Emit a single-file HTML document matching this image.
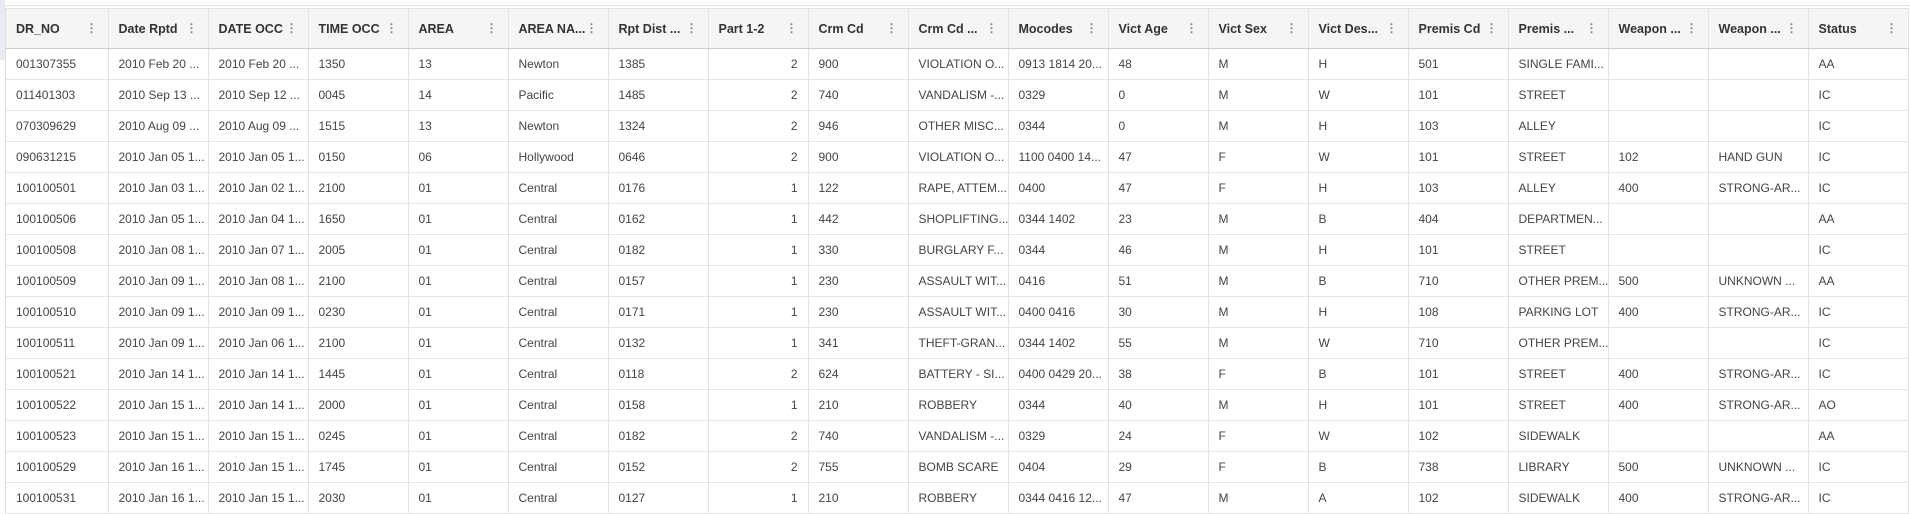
<!DOCTYPE html>
<html><head><meta charset="utf-8">
<style>
*{box-sizing:border-box;margin:0;padding:0}
body{width:1910px;height:514px;overflow:hidden;background:#fff;font-family:"Liberation Sans",sans-serif;color:#333;position:relative}
#topband{position:absolute;left:0;top:0;width:1910px;height:6px;background:#fff;border-bottom:1px solid #e2e2e2}
#lefttab{position:absolute;left:0;top:0;width:5px;height:60px;background:#e8ecf0}
#grid{position:absolute;left:5px;top:8px;border-left:1px solid #ddd}
table{border-collapse:collapse;table-layout:fixed;width:1902px}
th,td{overflow:hidden;white-space:nowrap;border-right:1px solid #e2e2e2;padding:0 10px;text-align:left}
th{height:40px;background:#f5f5f5;font-size:12.5px;font-weight:bold;color:#333;border-bottom:1px solid #ccc;border-top:1px solid #e2e2e2;position:relative;padding-right:28px;text-overflow:clip}
th span.m{position:absolute;right:10px;top:12px;color:#888;font-size:12px;font-weight:bold}
td{height:31px;font-size:12px;color:#444;border-bottom:1px solid #e6e6e6}
td.r{text-align:right}
</style></head><body>
<div id="topband"></div>
<div id="lefttab"></div>
<div id="grid">
<table id="t">
<colgroup id="cg"></colgroup>
<thead><tr id="hr"></tr></thead>
<tbody id="tb"></tbody>
</table></div>
<script>
const headers=["DR_NO","Date Rptd","DATE OCC","TIME OCC","AREA","AREA NA...","Rpt Dist ...","Part 1-2","Crm Cd","Crm Cd ...","Mocodes","Vict Age","Vict Sex","Vict Des...","Premis Cd","Premis ...","Weapon ...","Weapon ...","Status"];
const widths=[102,100,100,100,100,100,100,100,100,100,100,100,100,100,100,100,100,100,100];
const rows=[
["001307355","2010 Feb 20 ...","2010 Feb 20 ...","1350","13","Newton","1385","2","900","VIOLATION O...","0913 1814 20...","48","M","H","501","SINGLE FAMI...","","","AA"],
["011401303","2010 Sep 13 ...","2010 Sep 12 ...","0045","14","Pacific","1485","2","740","VANDALISM -...","0329","0","M","W","101","STREET","","","IC"],
["070309629","2010 Aug 09 ...","2010 Aug 09 ...","1515","13","Newton","1324","2","946","OTHER MISC...","0344","0","M","H","103","ALLEY","","","IC"],
["090631215","2010 Jan 05 1...","2010 Jan 05 1...","0150","06","Hollywood","0646","2","900","VIOLATION O...","1100 0400 14...","47","F","W","101","STREET","102","HAND GUN","IC"],
["100100501","2010 Jan 03 1...","2010 Jan 02 1...","2100","01","Central","0176","1","122","RAPE, ATTEM...","0400","47","F","H","103","ALLEY","400","STRONG-AR...","IC"],
["100100506","2010 Jan 05 1...","2010 Jan 04 1...","1650","01","Central","0162","1","442","SHOPLIFTING...","0344 1402","23","M","B","404","DEPARTMEN...","","","AA"],
["100100508","2010 Jan 08 1...","2010 Jan 07 1...","2005","01","Central","0182","1","330","BURGLARY F...","0344","46","M","H","101","STREET","","","IC"],
["100100509","2010 Jan 09 1...","2010 Jan 08 1...","2100","01","Central","0157","1","230","ASSAULT WIT...","0416","51","M","B","710","OTHER PREM...","500","UNKNOWN ...","AA"],
["100100510","2010 Jan 09 1...","2010 Jan 09 1...","0230","01","Central","0171","1","230","ASSAULT WIT...","0400 0416","30","M","H","108","PARKING LOT","400","STRONG-AR...","IC"],
["100100511","2010 Jan 09 1...","2010 Jan 06 1...","2100","01","Central","0132","1","341","THEFT-GRAN...","0344 1402","55","M","W","710","OTHER PREM...","","","IC"],
["100100521","2010 Jan 14 1...","2010 Jan 14 1...","1445","01","Central","0118","2","624","BATTERY - SI...","0400 0429 20...","38","F","B","101","STREET","400","STRONG-AR...","IC"],
["100100522","2010 Jan 15 1...","2010 Jan 14 1...","2000","01","Central","0158","1","210","ROBBERY","0344","40","M","H","101","STREET","400","STRONG-AR...","AO"],
["100100523","2010 Jan 15 1...","2010 Jan 15 1...","0245","01","Central","0182","2","740","VANDALISM -...","0329","24","F","W","102","SIDEWALK","","","AA"],
["100100529","2010 Jan 16 1...","2010 Jan 15 1...","1745","01","Central","0152","2","755","BOMB SCARE","0404","29","F","B","738","LIBRARY","500","UNKNOWN ...","IC"],
["100100531","2010 Jan 16 1...","2010 Jan 15 1...","2030","01","Central","0127","1","210","ROBBERY","0344 0416 12...","47","M","A","102","SIDEWALK","400","STRONG-AR...","IC"]];
const cg=document.getElementById('cg'),hr=document.getElementById('hr'),tb=document.getElementById('tb');
widths.forEach(w=>{const c=document.createElement('col');c.style.width=w+'px';cg.appendChild(c);});
headers.forEach(h=>{
 const th=document.createElement('th');
 
 
 th.appendChild(document.createTextNode(h));
 const m=document.createElement('span');m.className='m';m.textContent='⋮';
 
 
 th.appendChild(m);hr.appendChild(th);
});
rows.forEach(r=>{
 const tr=document.createElement('tr');
 
 
 r.forEach((v,i)=>{const td=document.createElement('td');td.textContent=v;if(i===7)td.className='r';
  
  
  tr.appendChild(td);});
 tb.appendChild(tr);
});
</script>
</body></html>
